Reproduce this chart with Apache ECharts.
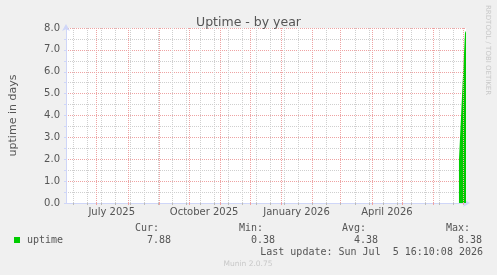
<!DOCTYPE html>
<html>
<head>
<meta charset="utf-8">
<title>Uptime - by year</title>
<script src="https://cdn.jsdelivr.net/npm/echarts@6/dist/echarts.min.js"></script>
<style>
  html, body { margin: 0; padding: 0; background: #f0f0f0; }
  #chart { width: 497px; height: 275px; }
</style>
</head>
<body>
<div id="chart"></div>
<script>
// time window shown on the x axis
const axisStart = '2025-05-31T12:30:00Z'
const axisEnd = '2026-07-03T16:30:00Z'

// uptime samples (daily averages), in days
const sampleDates = ['2026-06-26T16:30:00Z', '2026-06-27T16:30:00Z', '2026-06-28T16:30:00Z', '2026-06-29T16:30:00Z',
  '2026-06-30T16:30:00Z', '2026-07-01T16:30:00Z', '2026-07-02T16:30:00Z', '2026-07-03T16:30:00Z']
const uptimeValues = [1.97, 2.94, 3.9, 4.87, 5.84, 6.8, 7.77, 7.88]

// major grid (month starts) and labels (mid month, every 3 months)
const monthStarts = ['2025-07-01', '2025-08-01', '2025-09-01', '2025-10-01', '2025-11-01', '2025-12-01',
  '2026-01-01', '2026-02-01', '2026-03-01', '2026-04-01', '2026-05-01', '2026-06-01', '2026-07-01']
const labelDates = ['2025-07-16', '2025-10-16', '2026-01-16', '2026-04-16']
const labelTexts = ['July 2025', 'October 2025', 'January 2026', 'April 2026']

// minor grid: every second sunday
const firstMinor = '2025-06-08'
const minorCount = 28

// legend numbers
const statNames = ['Cur:', 'Min:', 'Avg:', 'Max:']
const statValues = ['7.88', '0.38', '4.38', '8.38']
const lastUpdate = 'Last update: Sun Jul  5 16:10:08 2026'

const t = s => Date.parse(s)
const minorDates = []
for (let i = 0; i < minorCount; i++) {
  minorDates.push(t(firstMinor + 'T00:00:00Z') + i * 14 * 86400000)
}

const axisColor = '#CFD6F8'
const fontColor = '#555555'
const mgrid = '#eea3a3'
const grid = '#cfcfcf'

const chart = echarts.init(document.getElementById('chart'), null, {renderer: 'canvas'})

// legend texts under the plot
const graphics = [
  {type: 'rect', shape: {x: 14, y: 237, width: 6, height: 6}, style: {fill: '#00cc00'}},
  {type: 'text', x: 27, y: 240, style: {text: 'uptime', fill: fontColor, font: '10px "DejaVu Sans Mono"', verticalAlign: 'middle'}},
  {type: 'text', x: 483, y: 252, style: {text: lastUpdate, fill: fontColor, font: '10px "DejaVu Sans Mono"', align: 'right', verticalAlign: 'middle'}},
  {type: 'text', x: 248, y: 264, style: {text: 'Munin 2.0.75', fill: '#c8c8c8', font: '7.5px "DejaVu Sans"', align: 'center', verticalAlign: 'middle'}},
  {type: 'text', x: 488, y: 5, rotation: -Math.PI / 2,
    style: {text: 'RRDTOOL / TOBI OETIKER', fill: '#c8c8c8', font: '7px "DejaVu Sans"', align: 'left', verticalAlign: 'middle'}}
]
const statRight = [159, 263, 366, 470]
for (let i = 0; i < statNames.length; i++) {
  graphics.push({type: 'text', x: statRight[i], y: 228,
    style: {text: statNames[i], fill: fontColor, font: '10px "DejaVu Sans Mono"', align: 'right', verticalAlign: 'middle'}})
  graphics.push({type: 'text', x: statRight[i] + 12, y: 240,
    style: {text: statValues[i], fill: fontColor, font: '10px "DejaVu Sans Mono"', align: 'right', verticalAlign: 'middle'}})
}

const option = {
  animation: false,
  backgroundColor: '#f0f0f0',
  title: {
    text: 'Uptime - by year',
    left: 'center',
    top: 11,
    textStyle: {fontFamily: 'DejaVu Sans', fontSize: 12.5, fontWeight: 'normal', color: fontColor}
  },
  grid: {left: 66, top: 28, width: 400, height: 175, backgroundColor: '#ffffff', show: true, borderWidth: 0},
  xAxis: [
    {
      type: 'value',
      min: t(axisStart),
      max: t(axisEnd),
      axisLine: {show: true, lineStyle: {color: axisColor}, symbol: ['none', 'arrow'], symbolSize: [6, 7], symbolOffset: [0, 4]},
      axisTick: {show: true, length: 2, customValues: monthStarts.map(t), lineStyle: {color: mgrid}},
      axisLabel: {
        customValues: labelDates.map(t),
        formatter: v => labelTexts[labelDates.map(t).indexOf(v)],
        color: fontColor, fontFamily: 'DejaVu Sans', fontSize: 10, margin: 4
      },
      splitLine: {show: false}
    },
    {
      type: 'value',
      min: t(axisStart),
      max: t(axisEnd),
      position: 'bottom',
      axisLine: {show: false},
      axisTick: {show: true, length: 2, customValues: minorDates, lineStyle: {color: '#bbbbbb'}},
      axisLabel: {show: false},
      splitLine: {show: false}
    }
  ],
  yAxis: {
    type: 'value',
    min: 0,
    max: 8,
    interval: 1,
    name: 'uptime in days',
    nameLocation: 'middle',
    nameGap: 47,
    nameTextStyle: {fontFamily: 'DejaVu Sans', fontSize: 11, color: fontColor},
    axisLine: {show: true, lineStyle: {color: axisColor}, symbol: ['none', 'arrow'], symbolSize: [6, 7], symbolOffset: [0, 4]},
    axisTick: {show: true, length: 2, lineStyle: {color: axisColor}},
    minorTick: {show: true, splitNumber: 2, length: 2, lineStyle: {color: axisColor}},
    axisLabel: {formatter: v => v.toFixed(1), color: fontColor, fontFamily: 'DejaVu Sans', fontSize: 10, margin: 6},
    splitLine: {show: true, lineStyle: {color: mgrid, type: [1, 1], width: 1}},
    minorSplitLine: {show: true, lineStyle: {color: grid, type: [1, 1], width: 1}}
  },
  series: [
    {
      // minor vertical grid
      type: 'line',
      data: [],
      z: 1,
      silent: true,
      markLine: {
        silent: true,
        symbol: ['none', 'none'],
        label: {show: false},
        lineStyle: {color: grid, type: [1, 1], width: 1},
        data: minorDates.map(d => ({xAxis: d}))
      }
    },
    {
      // major vertical grid
      type: 'line',
      data: [],
      z: 1,
      silent: true,
      markLine: {
        silent: true,
        symbol: ['none', 'none'],
        label: {show: false},
        lineStyle: {color: mgrid, type: [1, 1], width: 1},
        data: monthStarts.map(d => ({xAxis: t(d)}))
      }
    },
    {
      name: 'uptime',
      type: 'line',
      z: 3,
      symbol: 'none',
      lineStyle: {width: 0},
      areaStyle: {color: '#00cc00', opacity: 1},
      data: sampleDates.map((d, i) => [t(d), uptimeValues[i]])
    }
  ],
  graphic: graphics
}

chart.setOption(option)
</script>
</body>
</html>
